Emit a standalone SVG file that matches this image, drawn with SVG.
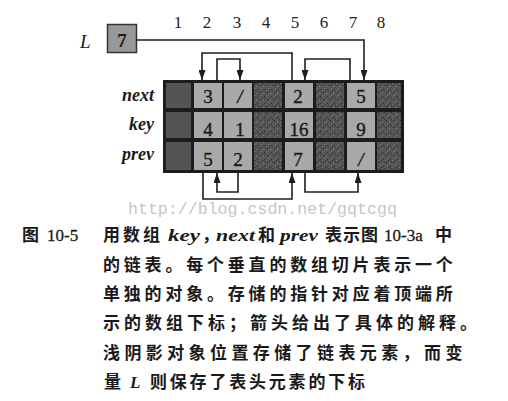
<svg xmlns="http://www.w3.org/2000/svg" width="508" height="401" viewBox="0 0 508 401">
<style>
.idx{font-family:"Liberation Serif",serif;font-size:17px;fill:#222;text-anchor:middle}
.num{font-family:"Liberation Serif",serif;font-size:19px;fill:#1a1a1a;text-anchor:middle;stroke:#1a1a1a;stroke-width:0.4}
.lbl{font-family:"Liberation Serif",serif;font-size:18px;font-style:italic;font-weight:bold;fill:#1a1a1a;text-anchor:end}
.light{fill:#a9a9a9}
.dark{fill:url(#stip)}
.solid{fill:#545454}
.con{fill:none;stroke:#1e1e1e;stroke-width:1.6}
.cap{font-family:"Noto Sans CJK SC","Noto Sans CJK JP",sans-serif;font-size:17px;font-weight:bold;fill:#1a1a1a}
.ser{font-family:"Liberation Serif",serif;font-size:17px;fill:#1a1a1a;stroke:#1a1a1a;stroke-width:0.3}
.it{font-family:"Liberation Serif",serif;font-size:17px;font-style:italic;font-weight:bold;fill:#1a1a1a}
.wm{font-family:"Liberation Mono",monospace;font-size:16.6px;fill:#c6c6c6}
</style>
<defs>
<pattern id="stip" width="7" height="7" patternUnits="userSpaceOnUse">
<rect width="7" height="7" fill="#555"/>
<rect x="1" y="1" width="1" height="1" fill="#2a2a2a"/>
<rect x="4" y="2" width="1" height="1" fill="#808080"/>
<rect x="2" y="4" width="1" height="1" fill="#7a7a7a"/>
<rect x="5" y="5" width="1" height="1" fill="#2a2a2a"/>
<rect x="6" y="0" width="1" height="1" fill="#353535"/>
<rect x="0" y="6" width="1" height="1" fill="#707070"/>
<rect x="3" y="6" width="1" height="1" fill="#303030"/>
</pattern>
<marker id="ah" markerUnits="userSpaceOnUse" markerWidth="10" markerHeight="7" refX="10" refY="3.5" orient="auto">
<path d="M0,0 L10,3.5 L0,7 z" fill="#1e1e1e"/>
</marker>
</defs>

<g id="indices">
<text class="idx" x="178" y="28">1</text>
<text class="idx" x="207" y="28">2</text>
<text class="idx" x="237" y="28">3</text>
<text class="idx" x="266" y="28">4</text>
<text class="idx" x="295" y="28">5</text>
<text class="idx" x="324" y="28">6</text>
<text class="idx" x="353" y="28">7</text>
<text class="idx" x="381" y="28">8</text>
</g>

<g id="L">
<text x="80" y="48" font-family="Liberation Serif, serif" font-size="19" font-style="italic" fill="#1a1a1a">L</text>
<rect x="107.5" y="24.5" width="29" height="28" fill="#999" stroke="#333" stroke-width="1.5"/>
<text x="122" y="47" font-family="Liberation Serif, serif" font-size="19" font-weight="bold" text-anchor="middle" fill="#1a1a1a">7</text>
</g>

<g id="row-labels">
<text class="lbl" x="154" y="101">next</text>
<text class="lbl" x="154" y="130">key</text>
<text class="lbl" x="154" y="160">prev</text>
</g>

<g id="array">
<rect x="163" y="80" width="241" height="93" fill="#1c1c1c"/>
<g id="obj1">
<rect class="solid" x="166" y="83" width="25" height="25"/>
<rect class="solid" x="166" y="112" width="25" height="26"/>
<rect class="solid" x="166" y="142" width="25" height="28"/>
</g>
<g id="obj2">
<rect class="light" x="194" y="83" width="28" height="25"/>
<rect class="light" x="194" y="112" width="28" height="26"/>
<rect class="light" x="194" y="142" width="28" height="28"/>
<text class="num" x="208" y="103">3</text>
<text class="num" x="208" y="136">4</text>
<text class="num" x="208" y="166">5</text>
</g>
<g id="obj3">
<rect class="light" x="224" y="83" width="28" height="25"/>
<rect class="light" x="224" y="112" width="28" height="26"/>
<rect class="light" x="224" y="142" width="28" height="28"/>
<text class="num" x="240" y="103" font-style="italic">/</text>
<text class="num" x="240" y="136">1</text>
<text class="num" x="238" y="166">2</text>
</g>
<g id="obj4">
<rect class="dark" x="254" y="83" width="28" height="25"/>
<rect class="dark" x="254" y="112" width="28" height="26"/>
<rect class="dark" x="254" y="142" width="28" height="28"/>
</g>
<g id="obj5">
<rect class="light" x="285" y="83" width="28" height="25"/>
<rect class="light" x="285" y="112" width="28" height="26"/>
<rect class="light" x="285" y="142" width="28" height="28"/>
<text class="num" x="298" y="103">2</text>
<text class="num" x="299" y="136">16</text>
<text class="num" x="298" y="166">7</text>
</g>
<g id="obj6">
<rect class="dark" x="316" y="83" width="28" height="25"/>
<rect class="dark" x="316" y="112" width="28" height="26"/>
<rect class="dark" x="316" y="142" width="28" height="28"/>
</g>
<g id="obj7">
<rect class="light" x="347" y="83" width="28" height="25"/>
<rect class="light" x="347" y="112" width="28" height="26"/>
<rect class="light" x="347" y="142" width="28" height="28"/>
<text class="num" x="361" y="103">5</text>
<text class="num" x="361" y="136">9</text>
<text class="num" x="361" y="166" font-style="italic">/</text>
</g>
<g id="obj8">
<rect class="dark" x="377" y="83" width="24" height="25"/>
<rect class="dark" x="377" y="112" width="24" height="26"/>
<rect class="dark" x="377" y="142" width="24" height="28"/>
</g>
</g>

<g id="connectors">
<path class="con" d="M137 40 H364 V80" stroke="#555" stroke-width="1.3" marker-end="url(#ah)"/>
<path class="con" d="M292 80 V53 H202 V80" marker-end="url(#ah)"/>
<path class="con" d="M217 80 V59 H240 V80" marker-end="url(#ah)"/>
<path class="con" d="M350 80 V59 H305 V80" marker-end="url(#ah)"/>
<path class="con" d="M203 173 V199 H292 V173" marker-end="url(#ah)"/>
<path class="con" d="M238 173 V192 H217 V173" marker-end="url(#ah)"/>
<path class="con" d="M305 173 V192 H358 V173" marker-end="url(#ah)"/>
</g>

<text class="wm" x="128" y="214">http://blog.csdn.net/gqtcgq</text>

<g id="caption">
<text class="cap" x="22" y="241">图</text>
<text class="ser" x="47" y="241">10-5</text>
<text y="241"><tspan class="cap" x="103" letter-spacing="3">用数组</tspan><tspan class="it" x="168" textLength="32" lengthAdjust="spacingAndGlyphs">key</tspan><tspan class="cap" x="202" font-size="8">，</tspan><tspan class="it" x="216" textLength="39" lengthAdjust="spacingAndGlyphs">next</tspan><tspan class="cap" x="258">和</tspan><tspan class="it" x="280" textLength="38" lengthAdjust="spacingAndGlyphs">prev</tspan><tspan class="cap" x="325" letter-spacing="1">表示图</tspan><tspan class="ser" x="384">10-3a</tspan><tspan class="cap" x="435">中</tspan></text>
<text class="cap" x="103" y="271" letter-spacing="3.8">的链表。每个垂直的数组切片表示一个</text>
<text class="cap" x="103" y="300" letter-spacing="3.8">单独的对象。存储的指针对应着顶端所</text>
<text class="cap" x="103" y="329" letter-spacing="4">示的数组下标；箭头给出了具体的解释。</text>
<text class="cap" x="103" y="359" letter-spacing="4.4">浅阴影对象位置存储了链表元素，而变</text>
<text y="388"><tspan class="cap" x="104">量</tspan><tspan class="it" x="130">L</tspan><tspan class="cap" x="150" letter-spacing="2.8">则保存了表头元素的下标</tspan></text>
</g>
</svg>
